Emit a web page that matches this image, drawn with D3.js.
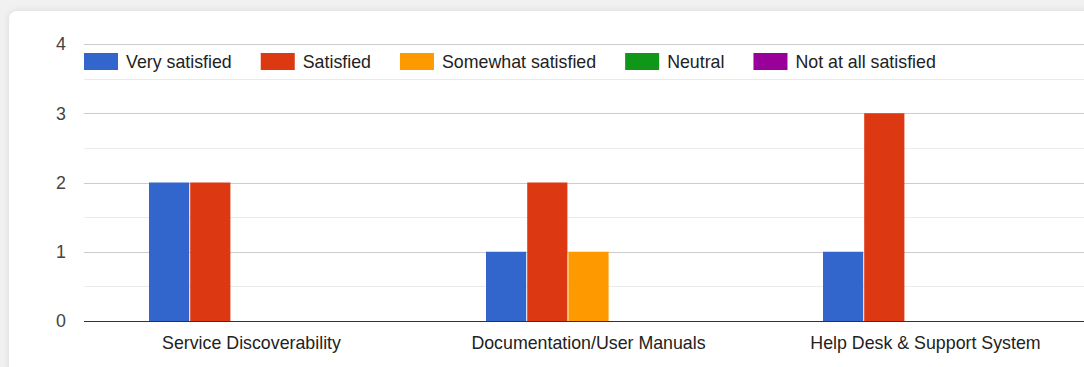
<!DOCTYPE html>
<html>
<head>
<meta charset="utf-8">
<script src="https://cdn.jsdelivr.net/npm/d3@7"></script>
<style>
  html, body { margin: 0; padding: 0; }
  body { width: 1084px; height: 367px; background: #f1f1f1; position: relative; overflow: hidden; }
  .card { position: absolute; left: 9px; top: 11px; width: 1200px; height: 500px; background: #fff;
          border-radius: 8px; box-shadow: 0 0 7px rgba(0,0,0,0.10); }
  svg { position: absolute; left: 0; top: 0; }
  text { font-family: "Liberation Sans", Arial, sans-serif; }
</style>
</head>
<body>
<div class="card"></div>
<svg id="chart" width="1084" height="367"></svg>
<script>
// Survey responses per topic, one array per satisfaction level
const categories = ["Service Discoverability", "Documentation/User Manuals", "Help Desk & Support System"];
const seriesNames = ["Very satisfied", "Satisfied", "Somewhat satisfied", "Neutral", "Not at all satisfied"];
const verySatisfied = [2, 1, 1];
const satisfied = [2, 2, 3];
const somewhatSatisfied = [0, 1, 0];
const neutral = [0, 0, 0];
const notAtAllSatisfied = [0, 0, 0];
const yTicks = [0, 1, 2, 3, 4];
const colors = ["#3366cc", "#dc3912", "#ff9900", "#109618", "#990099"];

const seriesValues = [verySatisfied, satisfied, somewhatSatisfied, neutral, notAtAllSatisfied];

const svg = d3.select("#chart");
const plotLeft = 84, plotTop = 44, plotBottom = 321;
const fontSize = 17.8;

const x0 = d3.scaleBand().domain(categories).range([plotLeft - 1, plotLeft - 1 + 3 * 337])
  .paddingInner(0.3917).paddingOuter(0.3917 / 2);
const x1 = d3.scaleBand().domain(seriesNames).range([0, x0.bandwidth()])
  .paddingInner(1 / 41).paddingOuter(0);
const y = d3.scaleLinear().domain([0, 4]).range([plotBottom, plotTop]);

// minor gridlines at half steps
const minor = d3.range(0.5, 4, 1);
svg.append("g").selectAll("line").data(minor).join("line")
  .attr("x1", plotLeft).attr("x2", 1084)
  .attr("y1", d => Math.round(y(d)) + 0.5).attr("y2", d => Math.round(y(d)) + 0.5)
  .attr("stroke", "#ebebeb").attr("stroke-width", 1);

// major gridlines
svg.append("g").selectAll("line").data(yTicks.filter(d => d > 0)).join("line")
  .attr("x1", plotLeft).attr("x2", 1084)
  .attr("y1", d => Math.round(y(d)) + 0.5).attr("y2", d => Math.round(y(d)) + 0.5)
  .attr("stroke", "#cccccc").attr("stroke-width", 1);

// y tick labels
svg.append("g").selectAll("text").data(yTicks).join("text")
  .attr("x", 66).attr("y", d => y(d))
  .attr("dy", "0.36em")
  .attr("text-anchor", "end")
  .attr("font-size", fontSize)
  .attr("fill", "#444")
  .text(d => d);

// bars
const barData = [];
categories.forEach((c, ci) => {
  seriesNames.forEach((s, si) => {
    barData.push({ category: c, series: s, value: seriesValues[si][ci], color: colors[si] });
  });
});
svg.append("g").selectAll("rect").data(barData.filter(d => d.value > 0)).join("rect")
  .attr("x", d => x0(d.category) + x1(d.series))
  .attr("y", d => y(d.value))
  .attr("width", x1.bandwidth())
  .attr("height", d => y(0) - y(d.value))
  .attr("fill", d => d.color);

// baseline
svg.append("line")
  .attr("x1", plotLeft).attr("x2", 1084)
  .attr("y1", Math.round(y(0)) + 0.5).attr("y2", Math.round(y(0)) + 0.5)
  .attr("stroke", "#333").attr("stroke-width", 1.2);

// category labels
svg.append("g").selectAll("text").data(categories).join("text")
  .attr("x", d => x0(d) + x0.bandwidth() / 2)
  .attr("y", 349)
  .attr("text-anchor", "middle")
  .attr("font-size", fontSize)
  .attr("fill", "#222")
  .text(d => d);

// legend across the top band
const legend = svg.append("g");
let lx = plotLeft;
const swW = 34, swH = 17, legY = 53;
seriesNames.forEach((name, i) => {
  legend.append("rect")
    .attr("x", lx).attr("y", legY).attr("width", swW).attr("height", swH)
    .attr("fill", colors[i]);
  const t = legend.append("text")
    .attr("x", lx + swW + 8).attr("y", legY + swH / 2)
    .attr("dy", "0.36em")
    .attr("font-size", fontSize)
    .attr("fill", "#222")
    .text(name);
  lx += swW + 8 + t.node().getComputedTextLength() + 29;
});
</script>
</body>
</html>
